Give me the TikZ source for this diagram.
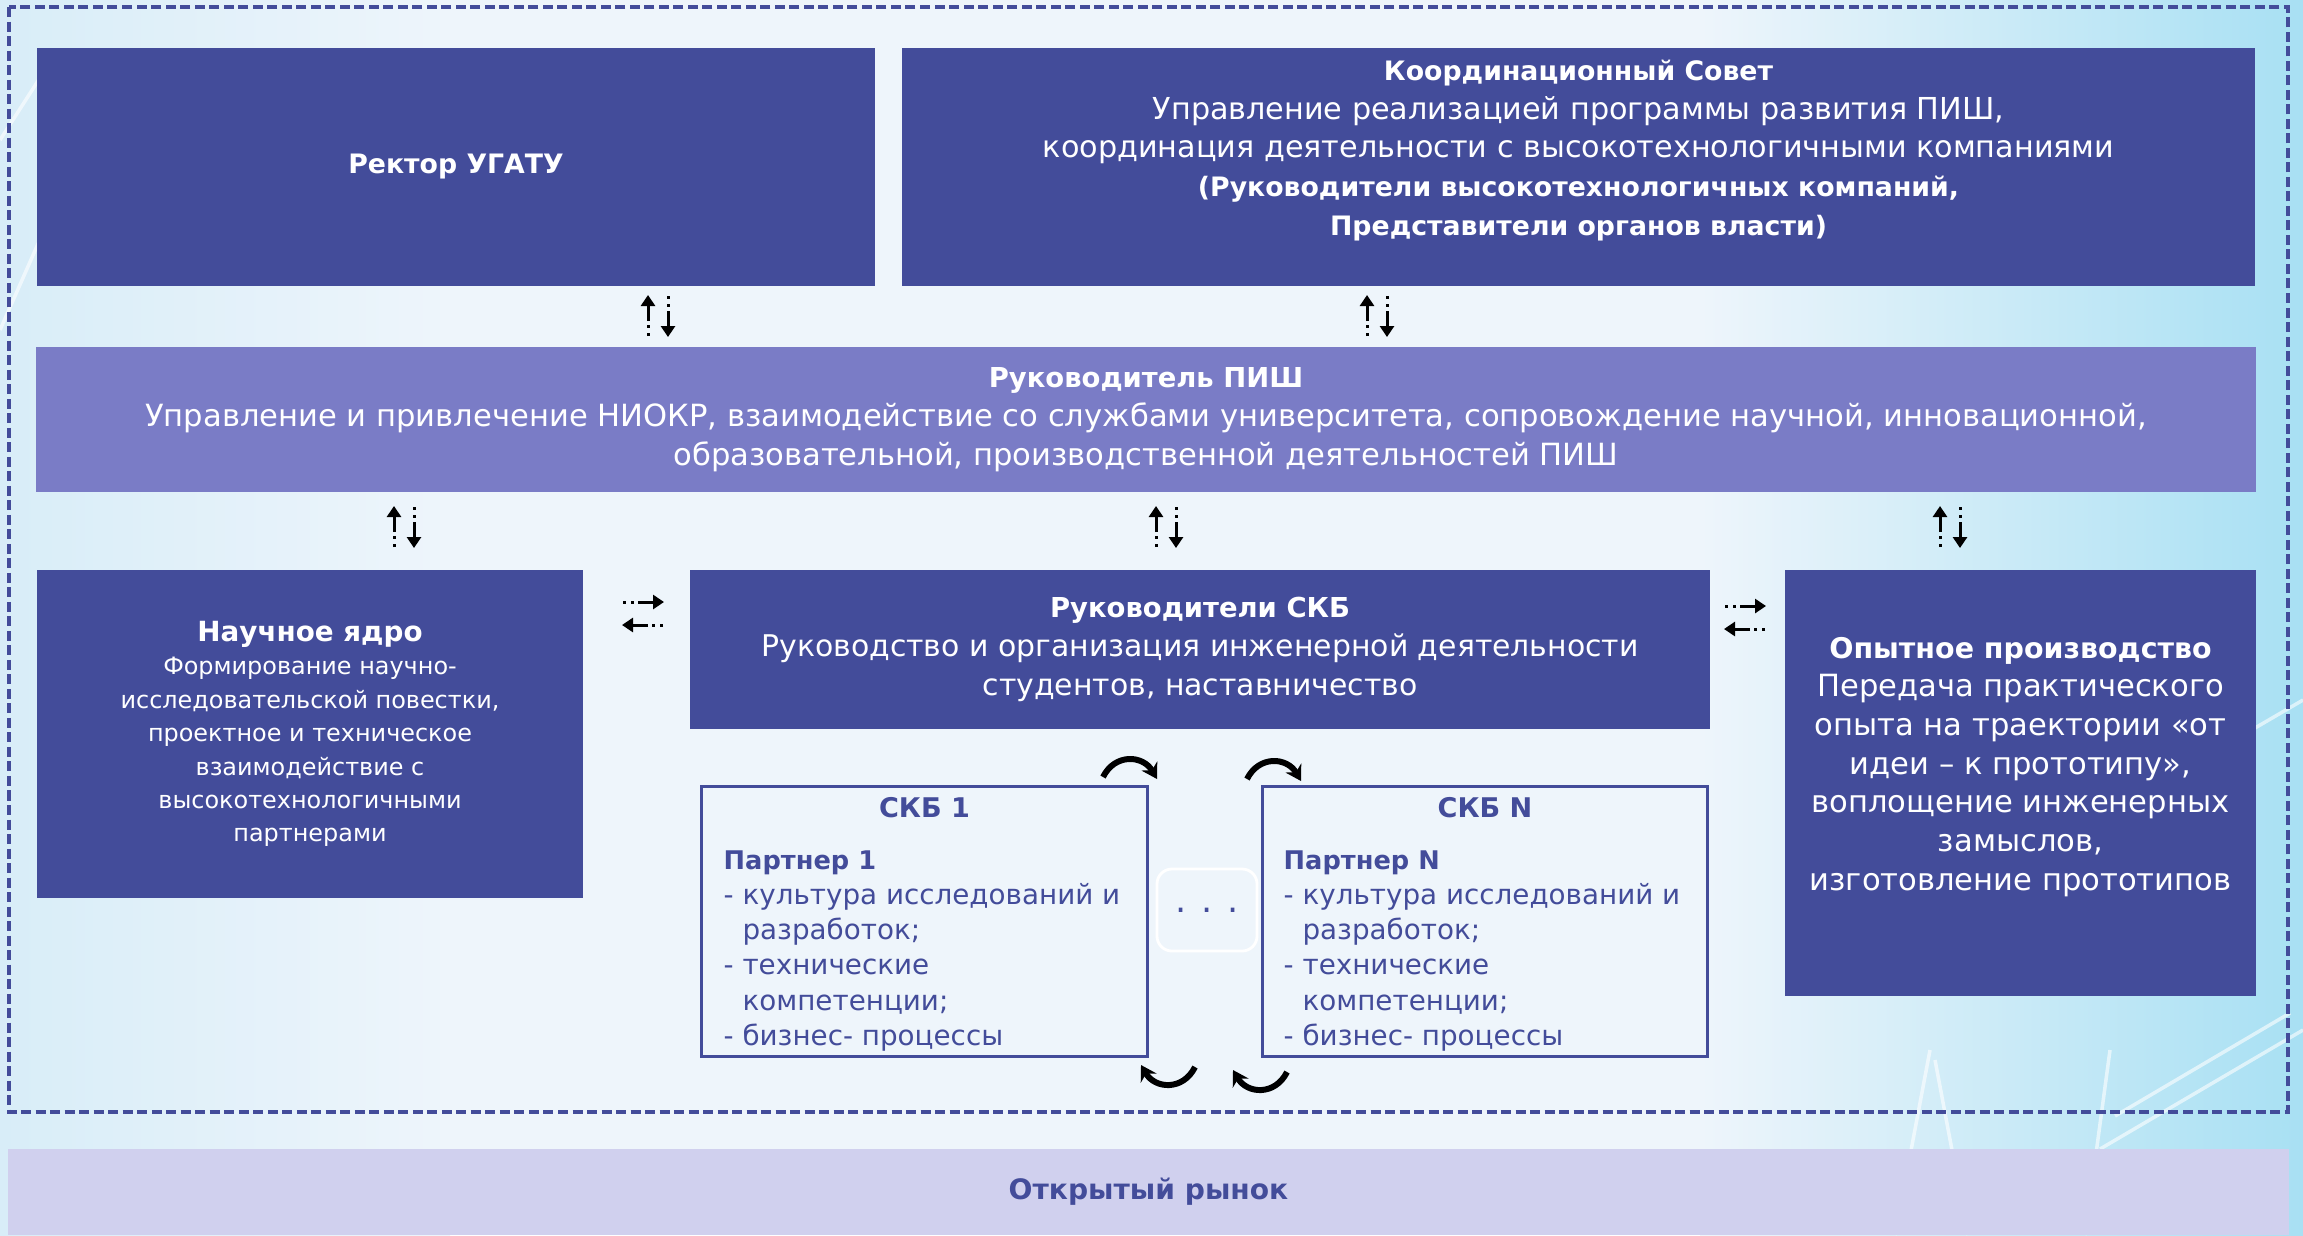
\documentclass[tikz,border=0pt]{standalone}
\usepackage{fontspec}
\setmainfont{DejaVu Sans}
\usetikzlibrary{arrows.meta}

\definecolor{boxblue}{HTML}{434C9A}
\definecolor{pishblue}{HTML}{7A7CC6}
\definecolor{marketbg}{HTML}{D0D0EE}
\definecolor{bgleft}{HTML}{D8EDF8}
\definecolor{bgmid}{HTML}{EEF5FB}
\definecolor{bgright}{HTML}{A8E0F3}

\newcommand{\hd}[2][7.8]{{\fontsize{#1}{11}\selectfont\bfseries #2}}

\tikzset{
  darkbox/.style={fill=boxblue, text=white, inner sep=0pt, align=center},
  skbbox/.style={draw=boxblue, line width=0.85pt, inner sep=0pt},
  bodyfont/.style={font=\fontsize{8.7}{11}\selectfont},
  dotline/.style={line width=0.85pt, dash pattern=on 0.85pt off 1.5pt},
  pics/updown/.style={code={
    \draw[dotline] (-10,20)--(-10,5);
    \draw[line width=0.85pt, -{Triangle[length=0.11cm, width=0.14cm]}] (-10,5)--(-10,-21);
    \draw[dotline] (10,-20)--(10,-5);
    \draw[line width=0.85pt, -{Triangle[length=0.11cm, width=0.14cm]}] (10,-5)--(10,21);
  }},
  pics/leftright/.style={code={
    \draw[dotline] (-20,-11)--(-5,-11);
    \draw[line width=0.85pt, -{Triangle[length=0.11cm, width=0.14cm]}] (-5,-11)--(21,-11);
    \draw[dotline] (20,12)--(5,12);
    \draw[line width=0.85pt, -{Triangle[length=0.11cm, width=0.14cm]}] (5,12)--(-21,12);
  }},
  pics/turn/.style={code={
    \draw[line width=1.7pt, -{Stealth[length=0.15cm, width=0.18cm]}] (0,0) .. controls (12,-24) and (40,-22) .. (54,2);
  }}
}

\begin{document}
\begin{tikzpicture}[x=0.01cm, y=-0.01cm]
\useasboundingbox (0,0) rectangle (2303,1235);
\fill[bgmid] (0,0) rectangle (2303,1235);
\shade[left color=bgleft, right color=bgmid] (0,0) rectangle (450,1235);
\shade[left color=bgmid, right color=bgright] (1700,0) rectangle (2303,1235);
% faint background lines
\begin{scope}[white, opacity=0.6, line width=1pt]
\draw (0,330)--(75,160);
\draw (0,140)--(45,70);
\draw (1895,1235)--(1930,1050);
\draw (1968,1235)--(1935,1060);
\draw (2085,1235)--(2110,1050);
\draw (2100,1149)--(2303,1030);
\draw (2115,1116)--(2290,1013);
\draw (2200,760)--(2303,700);
\end{scope}

% outer dashed frame
\draw[boxblue, line width=1.1pt, dash pattern=on 0.1cm off 0.045cm] (9,7) rectangle (2288,1112);

% top row
\node[darkbox, minimum width=8.38cm, minimum height=2.38cm] (rector) at (456,167) {\hd[7.6]{Ректор УГАТУ}};
\node[darkbox, bodyfont, font=\fontsize{8.6}{11}\selectfont, minimum width=13.53cm, minimum height=2.38cm] (council) at (1578.5,167)
  {\hd[7.6]{Координационный Совет}\\
   Управление реализацией программы развития ПИШ,\\
   координация деятельности с высокотехнологичными компаниями\\
   \hd[7.6]{(Руководители высокотехнологичных компаний,}\\
   \hd[7.6]{Представители органов власти)}\\ ~};

% head of the school
\node[darkbox, fill=pishblue, bodyfont, minimum width=22.18cm, minimum height=1.45cm] (pish) at (1146,419.5)
  {\hd{Руководитель ПИШ}\\
   Управление и привлечение НИОКР, взаимодействие со службами университета, сопровождение научной, инновационной,\\
   образовательной, производственной деятельностей ПИШ};

% third row
\node[darkbox, minimum width=5.46cm, minimum height=3.28cm, font=\fontsize{6.8}{9.5}\selectfont] (core) at (310,734)
  {{\fontsize{7.9}{12}\selectfont\bfseries Научное ядро}\\
   Формирование научно-\\
   исследовательской повестки,\\
   проектное и техническое\\
   взаимодействие с\\
   высокотехнологичными\\
   партнерами};
\node[darkbox, font=\fontsize{8.5}{11}\selectfont, minimum width=10.2cm, minimum height=1.59cm] (skblead) at (1200,649.5)
  {\hd{Руководители СКБ}\\
   Руководство и организация инженерной деятельности\\
   студентов, наставничество};
\node[darkbox, bodyfont, minimum width=4.71cm, minimum height=4.26cm] (prod) at (2020.5,783)
  {\hd[8.1]{Опытное производство}\\
   Передача практического\\
   опыта на траектории «от\\
   идеи – к прототипу»,\\
   воплощение инженерных\\
   замыслов,\\
   изготовление прототипов\\ ~};

% student design bureaus
\node[skbbox, minimum width=4.45cm, minimum height=2.69cm] (skbone) at (924.5,921.5) {};
\node[skbbox, minimum width=4.44cm, minimum height=2.69cm] (skbn) at (1485,921.5) {};
\node[text=boxblue, font=\fontsize{7.7}{11}\selectfont\bfseries] (skbonetitle) at (924.5,808) {СКБ 1};
\node[text=boxblue, font=\fontsize{7.7}{11}\selectfont\bfseries] (skbntitle) at (1485,808) {СКБ N};
\node[text=boxblue, font=\fontsize{7.9}{10}\selectfont, align=left, anchor=north west, inner sep=0pt] (skbonelist) at (723,850)
  {\hd[7.3]{Партнер 1}\\
   - культура исследований и\\
   \hphantom{- }разработок;\\
   - технические\\
   \hphantom{- }компетенции;\\
   - бизнес- процессы};
\node[text=boxblue, font=\fontsize{7.9}{10}\selectfont, align=left, anchor=north west, inner sep=0pt] (skbnlist) at (1283,850)
  {\hd[7.3]{Партнер N}\\
   - культура исследований и\\
   \hphantom{- }разработок;\\
   - технические\\
   \hphantom{- }компетенции;\\
   - бизнес- процессы};
\node[draw=white, line width=0.8pt, rounded corners=0.15cm, minimum width=1cm, minimum height=0.82cm, text=boxblue, font=\fontsize{10}{12}\selectfont] (dots) at (1207,910) {. . .};

% open market
\node[fill=marketbg, inner sep=0pt, minimum width=22.79cm, minimum height=0.86cm, text=boxblue] (market) at (1148.5,1192) {\hd[8]{Открытый рынок}};

% exchange arrows
\coordinate (rectorpish) at (658,316);
\coordinate (councilpish) at (1377,316);
\coordinate (pishcore) at (404,527);
\coordinate (pishlead) at (1166,527);
\coordinate (pishprod) at (1950,527);
\coordinate (corelead) at (643,613);
\coordinate (leadprod) at (1745,617);
\pic at (rectorpish) {updown};
\pic at (councilpish) {updown};
\pic at (pishcore) {updown};
\pic at (pishlead) {updown};
\pic at (pishprod) {updown};
\pic at (corelead) {leftright};
\pic at (leadprod) {leftright};

% rotation between bureaus
\pic at (1103,777) {turn};
\pic at (1247,779) {turn};
\pic[rotate=180] at (1195,1067) {turn};
\pic[rotate=180] at (1287,1072) {turn};
\end{tikzpicture}
\end{document}
